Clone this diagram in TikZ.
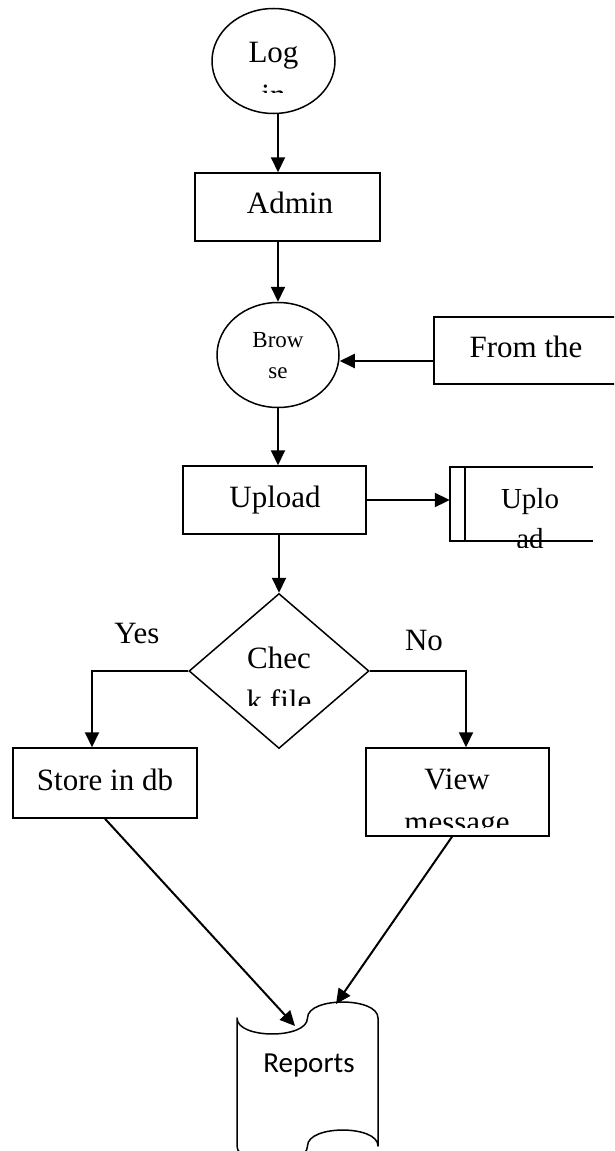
\documentclass[tikz,border=0pt]{standalone}
\usepackage{fontspec}
\setmainfont{Liberation Serif}
\newfontfamily\calibrifont{Carlito}
\usepackage{tikz}
\usetikzlibrary{arrows.meta, shapes.geometric}

\begin{document}
\begin{tikzpicture}[x=1pt, y=-1pt,
    box/.style={draw, line width=1.5pt, rectangle, inner sep=0pt},
    oval/.style={draw, line width=1.5pt, ellipse, inner sep=0pt},
    arr/.style={line width=2pt, -{Triangle[length=15pt,width=14pt]}},
    txt/.style={anchor=base, align=center, inner sep=0pt, font=\fontsize{31}{43}\selectfont}]
        \useasboundingbox (0,0) rectangle (614,1151);
        \clip (0,0) rectangle (614,1151);
        \node[oval, minimum width=123pt, minimum height=105pt] (login) at (273.5,61) {};
        \node[box, minimum width=185pt, minimum height=68pt] (admin) at (287.5,207) {};
        \node[oval, minimum width=122pt, minimum height=105pt] (browse) at (278,355) {};
        \node[box, minimum width=206pt, minimum height=67pt] (source) at (537,350.5) {};
        \node[box, minimum width=183pt, minimum height=68pt] (upload) at (274.5,500) {};
        \node[inner sep=0pt, minimum width=143pt, minimum height=74pt] (upfile) at (521.5,504) {};
        \node[draw, line width=1.5pt, diamond, inner sep=0pt, minimum width=180pt, minimum height=155pt] (check) at (279,671) {};
        \node[box, minimum width=184pt, minimum height=70pt] (store) at (105,783) {};
        \node[box, minimum width=183pt, minimum height=88pt] (view) at (457.5,792) {};
        \draw[line width=1.5pt] (upfile.north east) -- (upfile.north west) -- (upfile.south west) -- (upfile.south east);
        \draw[line width=1.5pt] ([xshift=15pt]upfile.north west) -- ([xshift=15pt]upfile.south west);
        \draw[line width=1.5pt, line join=round] (237,1018) .. controls (237,1039.3) and (307.5,1039.3) .. (307.5,1018)
            .. controls (307.5,996.7) and (378,996.7) .. (378,1018) -- (378,1146)
            .. controls (378,1124.7) and (307.5,1124.7) .. (307.5,1146)
            .. controls (307.5,1167.3) and (237,1167.3) .. (237,1146) -- cycle;
        \coordinate (repL) at (295,1026); \coordinate (repR) at (336,1004);
        \begin{scope} \clip (205,0) rectangle (345,92); \node[txt] (logintxt) at (273.5,105) {Log\\in}; \end{scope}
        \node[txt] (admintxt) at (290,213) {Admin};
        \node[txt, font=\fontsize{23}{31}\selectfont] (browsetxt) at (278,378) {Brow\\se};
        \node[txt] (sourcetxt) at (526,357) {From the};
        \node[txt] (uploadtxt) at (275,507) {Upload};
        \begin{scope} \clip (466,460) rectangle (600,547); \node[txt, font=\fontsize{29}{40}\selectfont] (upfiletxt) at (530,548) {Uplo\\ad}; \end{scope}
        \begin{scope} \clip (190,590) rectangle (370,705); \node[txt] (checktxt) at (279,711) {Chec\\k file}; \end{scope}
        \node[txt] (yes) at (137,643) {Yes}; \node[txt] (no) at (424,650) {No};
        \node[txt] (storetxt) at (105,790) {Store in db};
        \begin{scope} \clip (366,748) rectangle (549,827); \node[txt] (viewtxt) at (457,832) {View\\message}; \end{scope}
        \node[txt, font=\calibrifont\fontsize{29}{35}\selectfont] (reports) at (309,1072) {Reports};
        \draw[arr] (login.south -| browse) -- (admin.north -| browse);
        \draw[arr] (admin.south -| browse) -- (browse.north);
        \draw[arr] ([yshift=-10.5pt]source.west) -- ([yshift=-10.5pt]source.west -| browse.east);
        \draw[arr] (browse.south) -- (upload.north -| browse);
        \draw[arr] (upload.east) -- (upload.east -| upfile.west);
        \draw[arr] (upload.south -| check.north) -- (check.north);
        \draw[arr] (check.west) -| ([xshift=-13pt]store.north);
        \draw[arr] (check.east) -| ([xshift=8.5pt]view.north);
        \draw[arr] (store.south) -- (repL);
        \draw[arr] ([xshift=-5.5pt]view.south) -- (repR);
      \end{tikzpicture}
\end{document}
